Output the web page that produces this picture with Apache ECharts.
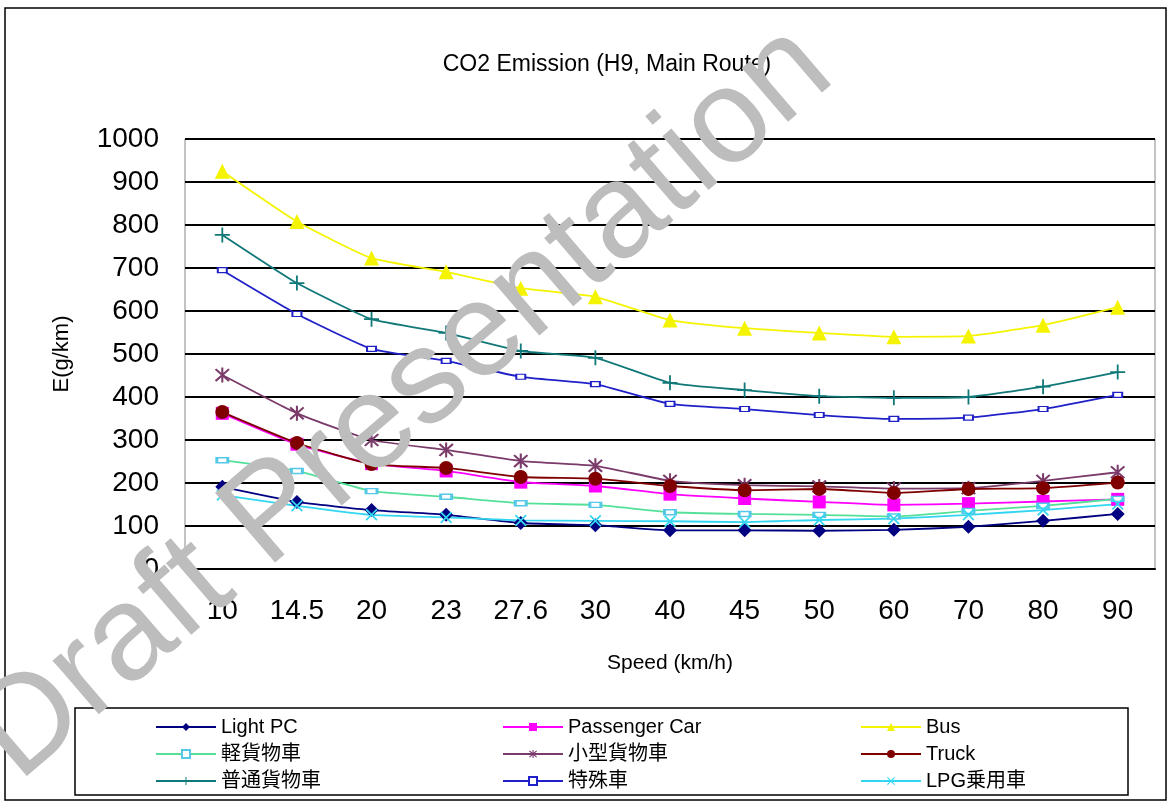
<!DOCTYPE html>
<html>
<head>
<meta charset="utf-8">
<script src="https://cdn.jsdelivr.net/npm/echarts@6/dist/echarts.min.js"></script>
<style>
html, body { margin: 0; padding: 0; background: #fff; }
#chart { width: 1170px; height: 802px; }
</style>
</head>
<body>
<div id="chart"></div>
<script>
// categories (speed, km/h)
var speeds = ['10', '14.5', '20', '23', '27.6', '30', '40', '45', '50', '60', '70', '80', '90'];
var yTicks = [0, 100, 200, 300, 400, 500, 600, 700, 800, 900, 1000];

// CO2 emission, g/km
var lightPC      = [191, 156, 137, 126, 107, 102, 90, 90, 89, 91, 98, 112, 128];
var passengerCar = [362, 290, 245, 228, 202, 193, 174, 164, 156, 149, 152, 157, 162];
var bus          = [925, 808, 723, 691, 653, 633, 579, 560, 549, 540, 542, 567, 609];
var keiKamotsu   = [253, 228, 181, 168, 153, 149, 132, 128, 126, 122, 135, 147, 163];
var kogata       = [451, 362, 300, 277, 251, 240, 205, 195, 192, 187, 188, 205, 225];
var truck        = [365, 293, 244, 235, 214, 210, 193, 183, 186, 177, 186, 188, 201];
var futsu        = [777, 665, 581, 549, 507, 491, 433, 416, 402, 398, 400, 424, 458];
var tokushu      = [695, 593, 512, 484, 447, 430, 384, 372, 358, 349, 352, 372, 405];
var lpg          = [172, 147, 126, 120, 113, 112, 111, 109, 114, 117, 126, 137, 151];

var FONT = "'Liberation Sans', 'Noto Sans CJK JP', sans-serif";

var plusPath = 'path://M0,4.4H10V5.6H0Z M4.4,0H5.6V10H4.4Z';
var starPath = 'path://M4.4,0H5.6V10H4.4Z M0.6,1.5L1.5,0.6L9.4,8.5L8.5,9.4Z M8.5,0.6L9.4,1.5L1.5,9.4L0.6,8.5Z';
var xPath = 'path://M0.6,1.5L1.5,0.6L9.4,8.5L8.5,9.4Z M8.5,0.6L9.4,1.5L1.5,9.4L0.6,8.5Z';

function line(name, data, color, symbol, size, extra) {
  var s = {
    name: name,
    type: 'line',
    data: data,
    smooth: 0.15,
    symbol: symbol,
    symbolSize: size,
    lineStyle: { color: color, width: 1.8 },
    itemStyle: { color: color }
  };
  if (extra) {
    for (var k in extra) s[k] = extra[k];
  }
  return s;
}

var chart = echarts.init(document.getElementById('chart'));

var legendBase = {
  orient: 'vertical',
  top: 712,
  itemWidth: 60,
  itemHeight: 10,
  itemGap: 7,
  textStyle: { fontFamily: FONT, fontSize: 20, color: '#000', lineHeight: 20 }
};

var option = {
  animation: false,
  backgroundColor: '#fff',
  title: {
    text: 'CO2 Emission (H9, Main Route)',
    left: 602,
    textAlign: 'center',
    top: 48,
    textStyle: { fontFamily: FONT, fontSize: 23, fontWeight: 'normal', color: '#000' }
  },
  legend: [
    Object.assign({}, legendBase, { left: 150, data: ['Light PC', '軽貨物車', '普通貨物車'] }),
    Object.assign({}, legendBase, { left: 497, data: ['Passenger Car', '小型貨物車', '特殊車'] }),
    Object.assign({}, legendBase, { left: 855, data: ['Bus', 'Truck', 'LPG乗用車'] })
  ],
  grid: {
    left: 185,
    right: 15,
    top: 139,
    bottom: 233,
    show: true,
    borderColor: '#888',
    borderWidth: 1
  },
  xAxis: {
    type: 'category',
    data: speeds,
    boundaryGap: true,
    name: 'Speed (km/h)',
    nameLocation: 'middle',
    nameGap: 84,
    nameTextStyle: { fontFamily: FONT, fontSize: 21, color: '#000' },
    axisLine: { lineStyle: { color: '#000', width: 2 } },
    axisTick: { inside: true, length: 9, lineStyle: { color: '#000', width: 2 } },
    axisLabel: { fontFamily: FONT, fontSize: 28, color: '#000', margin: 28 }
  },
  yAxis: {
    type: 'value',
    min: yTicks[0],
    max: yTicks[yTicks.length - 1],
    interval: 100,
    name: 'E(g/km)',
    nameLocation: 'middle',
    nameGap: 112,
    nameTextStyle: { fontFamily: FONT, fontSize: 22, color: '#000' },
    axisLine: { show: false },
    axisTick: { show: false },
    axisLabel: {
      fontFamily: FONT, fontSize: 28, color: '#000', margin: 26,
      formatter: function (v) { return String(v); }
    },
    splitLine: { lineStyle: { color: '#000', width: 2 } }
  },
  series: [
    line('Light PC', lightPC, '#000080', 'diamond', 14),
    line('Passenger Car', passengerCar, '#FF00FF', 'rect', 13),
    line('Bus', bus, '#F4F400', 'triangle', 15),
    line('軽貨物車', keiKamotsu, '#55E09A', 'rect', [11, 5], {
      itemStyle: { color: '#ffffff', borderColor: '#55C8E8', borderWidth: 2 }
    }),
    line('小型貨物車', kogata, '#7A3A6A', starPath, 15),
    line('Truck', truck, '#800000', 'circle', 14),
    line('普通貨物車', futsu, '#107878', plusPath, 15),
    line('特殊車', tokushu, '#2020C8', 'rect', [9, 5], {
      itemStyle: { color: '#ffffff', borderColor: '#2020C8', borderWidth: 1.5 }
    }),
    line('LPG乗用車', lpg, '#33D6F0', xPath, 12)
  ],
  graphic: [
    {
      type: 'rect',
      shape: { x: 5, y: 8, width: 1161, height: 792 },
      style: { fill: 'none', stroke: '#000', lineWidth: 1.5 },
      z: -1,
      silent: true
    },
    {
      type: 'rect',
      shape: { x: 75, y: 708, width: 1053, height: 87 },
      style: { fill: 'none', stroke: '#000', lineWidth: 1.5 },
      silent: true
    },
    {
      type: 'text',
      x: 38,
      y: 806,
      rotation: 0.71,
      z: 100,
      silent: true,
      style: {
        text: 'Draft Presentation',
        fill: '#bdbdbd',
        font: '134px ' + FONT,
        textAlign: 'left',
        textVerticalAlign: 'bottom'
      }
    }
  ]
};

chart.setOption(option);
</script>
</body>
</html>
